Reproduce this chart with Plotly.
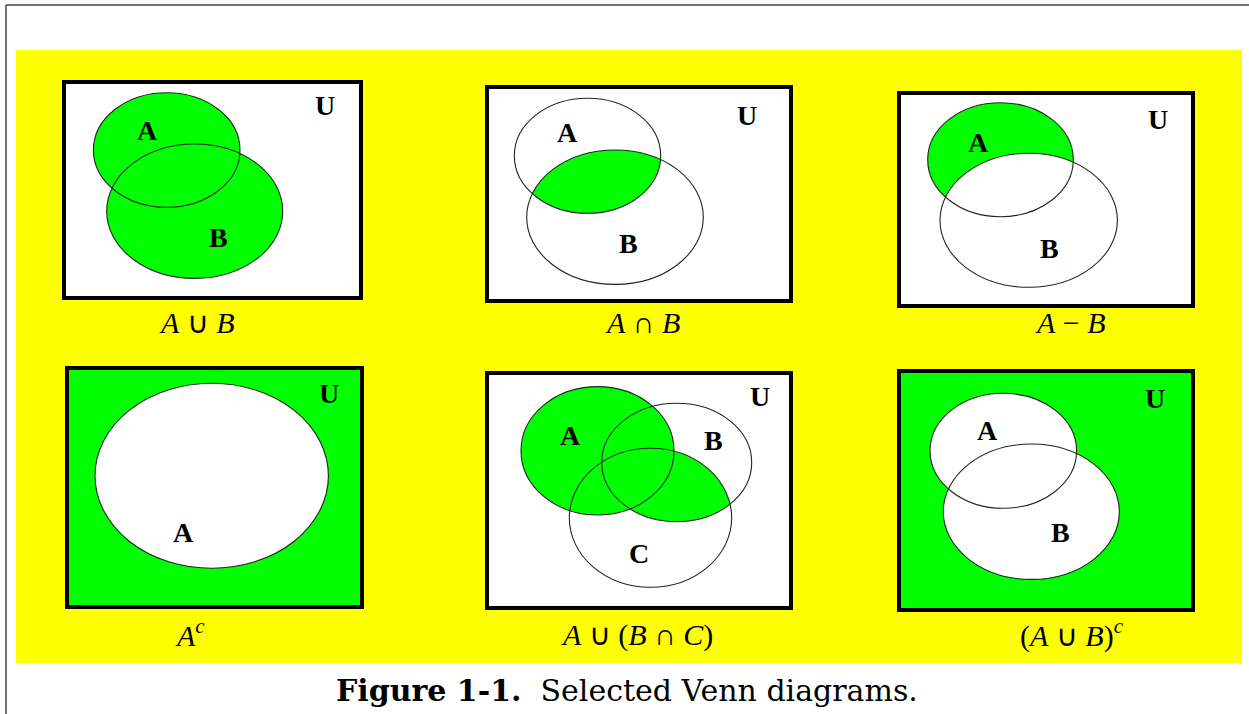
import numpy as np
import plotly.graph_objects as go

# ---------------- data ----------------
panel_captions = [
    "<i>A</i> ∪ <i>B</i>",
    "<i>A</i> ∩ <i>B</i>",
    "<i>A</i> − <i>B</i>",
    "<i>A</i><sup><i>c</i></sup>",
    "<i>A</i> ∪ (<i>B</i> ∩ <i>C</i>)",
    "(<i>A</i> ∪ <i>B</i>)<sup><i>c</i></sup>",
]
caption_x = [197, 642, 1070, 190, 637, 1072]
caption_y = [322, 322, 322, 633, 635, 633]

box_left = [64, 487, 899, 67, 487, 899]
box_right = [361, 791, 1193, 362, 791, 1193]
box_top = [82, 87, 93, 368, 373, 371]
box_bottom = [298, 301, 306, 607, 608, 610]
box_fill = ["white", "white", "white", "#00FF00", "white", "#00FF00"]

# ellipses per panel: name -> (cx, cy, rx, ry)
ellipses = [
    {"A": (166.7, 150.0, 73.3, 57.3), "B": (194.7, 211.2, 88.0, 67.2)},
    {"A": (587.5, 155.8, 73.2, 57.5), "B": (615.0, 217.2, 88.3, 67.2)},
    {"A": (1000.5, 159.7, 72.8, 57.0), "B": (1028.7, 220.3, 88.7, 67.0)},
    {"A": (211.7, 475.8, 116.7, 92.5)},
    {"A": (597.5, 450.8, 76.5, 64.2), "B": (676.7, 462.5, 75.0, 59.2),
     "C": (650.5, 517.8, 81.2, 69.5)},
    {"A": (1003.3, 450.8, 73.3, 57.5), "B": (1031.3, 511.7, 88.0, 67.7)},
]
# fill layers, drawn in order: ellipse name or intersection tuple, with colour
fills = [
    [("A", "#00FF00"), ("B", "#00FF00")],
    [(("A", "B"), "#00FF00")],
    [("A", "#00FF00"), ("B", "white")],
    [("A", "white")],
    [("A", "#00FF00"), (("B", "C"), "#00FF00")],
    [("A", "white"), ("B", "white")],
]
labels = [
    {"A": (147, 130), "B": (218, 237), "U": (325, 105)},
    {"A": (567, 132), "B": (628, 243), "U": (747, 115)},
    {"A": (978, 142), "B": (1049, 248), "U": (1158, 119)},
    {"A": (183, 532), "U": (329, 393)},
    {"A": (570, 435), "B": (713, 440), "C": (639, 553), "U": (760, 396)},
    {"A": (987, 430), "B": (1060, 532), "U": (1155, 398)},
]

W, H = 1249, 714
YELLOW = "#FFFF00"

shapes = []
annotations = []

# outer thin frame
shapes.append(dict(type="line", xref="x", yref="y", x0=6, x1=W, y0=5, y1=5,
                   line=dict(color="#444", width=1.5)))
shapes.append(dict(type="line", xref="x", yref="y", x0=6, x1=6, y0=5, y1=H,
                   line=dict(color="#444", width=1.5)))
# yellow background
shapes.append(dict(type="rect", xref="x", yref="y", x0=16, x1=1242, y0=50, y1=663,
                   fillcolor=YELLOW, line=dict(width=0)))


def boundary(e, n=720):
    cx, cy, rx, ry = e
    t = np.linspace(0, 2 * np.pi, n, endpoint=False)
    return cx + rx * np.cos(t), cy + ry * np.sin(t)


def inside(x, y, e):
    cx, cy, rx, ry = e
    return ((x - cx) / rx) ** 2 + ((y - cy) / ry) ** 2 <= 1.0 + 1e-9


def intersection_path(e1, e2):
    x1, y1 = boundary(e1)
    x2, y2 = boundary(e2)
    m1 = inside(x1, y1, e2)
    m2 = inside(x2, y2, e1)
    xs = np.concatenate([x1[m1], x2[m2]])
    ys = np.concatenate([y1[m1], y2[m2]])
    mx, my = xs.mean(), ys.mean()
    order = np.argsort(np.arctan2(ys - my, xs - mx))
    xs, ys = xs[order], ys[order]
    return "M " + " L ".join(f"{a:.2f},{b:.2f}" for a, b in zip(xs, ys)) + " Z"


for i in range(6):
    shapes.append(dict(type="rect", xref="x", yref="y",
                       x0=box_left[i], x1=box_right[i], y0=box_top[i], y1=box_bottom[i],
                       fillcolor=box_fill[i], line=dict(color="black", width=4)))
    ell = ellipses[i]
    for key, col in fills[i]:
        if isinstance(key, tuple):
            shapes.append(dict(type="path", xref="x", yref="y",
                               path=intersection_path(ell[key[0]], ell[key[1]]),
                               fillcolor=col, line=dict(width=0)))
        else:
            cx, cy, rx, ry = ell[key]
            shapes.append(dict(type="circle", xref="x", yref="y",
                               x0=cx - rx, x1=cx + rx, y0=cy - ry, y1=cy + ry,
                               fillcolor=col, line=dict(width=0)))
    for key, (cx, cy, rx, ry) in ell.items():
        shapes.append(dict(type="circle", xref="x", yref="y",
                           x0=cx - rx, x1=cx + rx, y0=cy - ry, y1=cy + ry,
                           fillcolor="rgba(0,0,0,0)", line=dict(color="#222", width=1.1)))
    for name, (lx, ly) in labels[i].items():
        annotations.append(dict(x=lx, y=ly, xref="x", yref="y", text=f"<b>{name}</b>",
                                showarrow=False,
                                font=dict(family="Liberation Serif", size=28, color="black"),
                                xanchor="center", yanchor="middle"))
    annotations.append(dict(x=caption_x[i], y=caption_y[i], xref="x", yref="y",
                            text=panel_captions[i], showarrow=False,
                            font=dict(family="Liberation Serif", size=30, color="black"),
                            xanchor="center", yanchor="middle"))

annotations.append(dict(x=627, y=690, xref="x", yref="y",
                        text="<b>Figure 1-1.</b>  Selected Venn diagrams.",
                        showarrow=False,
                        font=dict(family="DejaVu Serif", size=30, color="black"),
                        xanchor="center", yanchor="middle"))

fig = go.Figure()
fig.add_trace(go.Scatter(x=[0, W], y=[0, H], mode="markers",
                         marker=dict(opacity=0), hoverinfo="skip", showlegend=False))
fig.update_layout(
    width=W, height=H,
    margin=dict(l=0, r=0, t=0, b=0),
    paper_bgcolor="white", plot_bgcolor="white",
    xaxis=dict(range=[0, W], visible=False, fixedrange=True),
    yaxis=dict(range=[H, 0], visible=False, fixedrange=True),
    shapes=shapes, annotations=annotations,
    showlegend=False,
)
fig.write_html("out.html", config={"displayModeBar": False},
               post_script="document.body.style.margin='0';document.body.style.overflow='hidden';")
